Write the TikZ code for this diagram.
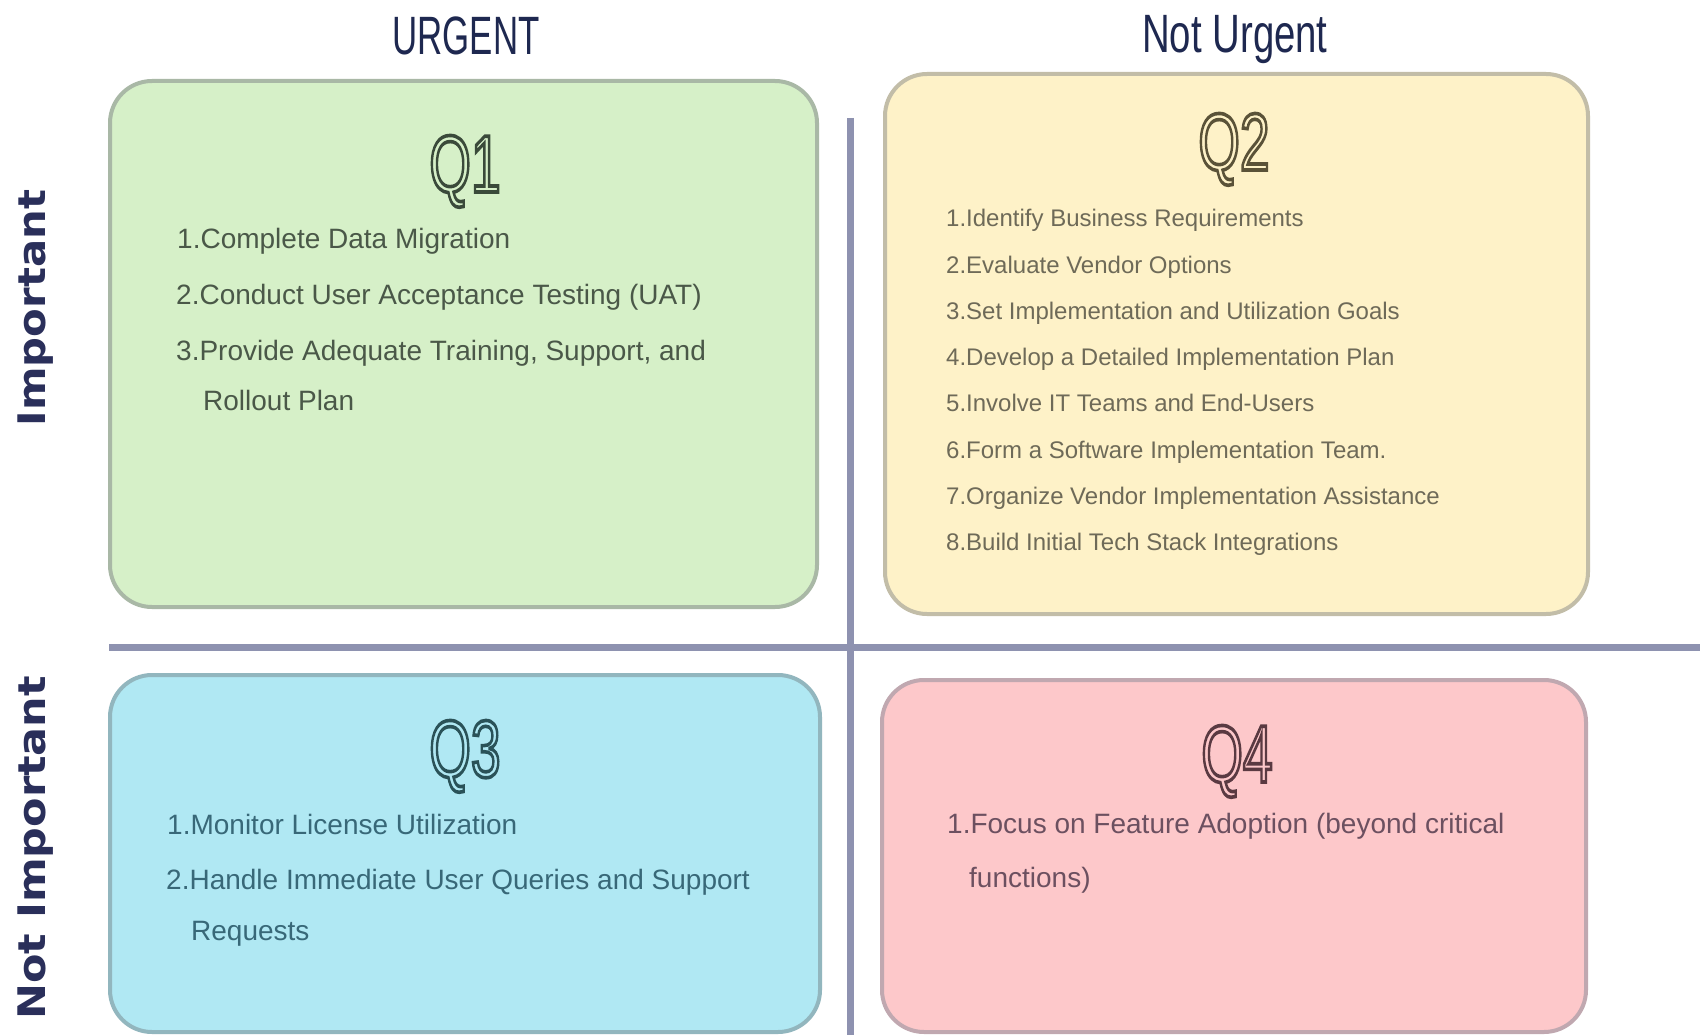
\documentclass[tikz,border=0pt]{standalone}
\usepackage{fontspec}
\setmainfont{Liberation Sans}
\newfontfamily\lblfont{DejaVu Sans}
\usepackage{graphicx}
\definecolor{q1fill}{HTML}{D6F0C8}
\definecolor{q1line}{HTML}{A9B8A6}
\definecolor{q1txt}{HTML}{4A5848}
\definecolor{q2fill}{HTML}{FEF2C8}
\definecolor{q2line}{HTML}{C2BDA8}
\definecolor{q2txt}{HTML}{6E6A58}
\definecolor{q3fill}{HTML}{B0E8F3}
\definecolor{q3line}{HTML}{92B6BE}
\definecolor{q3txt}{HTML}{386878}
\definecolor{q4fill}{HTML}{FDC8CA}
\definecolor{q4line}{HTML}{C0A8B0}
\definecolor{q4txt}{HTML}{6C5060}
\definecolor{axiscol}{HTML}{8E92B0}
\definecolor{hdrcol}{HTML}{1E2850}
\definecolor{lblcol}{HTML}{2A2F5A}
% outlined text: fill colour #3, stroke colour given as "r g b" in #2
\newcommand{\outlinedtext}[3]{{\color{#3}\special{pdf:literal direct 2 Tr 3.6 w #2 RG}#1\special{pdf:literal direct 0 Tr}}}
\begin{document}
\begin{tikzpicture}[x=1pt,y=-1pt,
  qbox/.style={rectangle, rounded corners=42pt, line width=4pt, inner sep=0pt},
  qtitle/.style={anchor=base, inner sep=0pt, font=\fontsize{81}{81}\selectfont},
  item/.style={anchor=base west, inner sep=0pt, font=\fontsize{28}{30}\selectfont},
  smallitem/.style={anchor=base west, inner sep=0pt, font=\fontsize{24}{26}\selectfont},
  header/.style={anchor=base, inner sep=0pt, text=hdrcol, font=\fontsize{54}{54}\selectfont},
  sidelbl/.style={anchor=base, inner sep=0pt, rotate=90, text=lblcol, font=\lblfont\bfseries\fontsize{38}{38}\selectfont},
  axis/.style={draw=axiscol, line width=7pt}
]
\useasboundingbox[fill=white] (0,0) rectangle (1708,1035);

% axes
\coordinate (hl) at (109,647);
\coordinate (hr) at (1700,647);
\coordinate (vt) at (850,118);
\coordinate (vb) at (850,1035);
\draw[axis] (hl) -- (hr);
\draw[axis] (vt) -- (vb);

% quadrant boxes
\node[qbox, fill=q1fill, draw=q1line, minimum width=707pt, minimum height=526pt] (q1) at (463.5,344) {};
\node[qbox, fill=q2fill, draw=q2line, minimum width=703pt, minimum height=540pt] (q2) at (1236.5,344) {};
\node[qbox, fill=q3fill, draw=q3line, minimum width=710pt, minimum height=357pt] (q3) at (465,853.5) {};
\node[qbox, fill=q4fill, draw=q4line, minimum width=704pt, minimum height=352pt] (q4) at (1234,856) {};

% headers
\node[header] (urg) at (466,55) {\scalebox{0.645}[1]{URGENT}};
\node[header] (nurg) at (1235,53) {\scalebox{0.71}[1]{Not Urgent}};

% side labels
\node[sidelbl] (imp) at (45,308) {\scalebox{1.1}[1]{Important}};
\node[sidelbl] (nimp) at (45,848) {\scalebox{1.13}[1]{Not Important}};

% titles (outlined)
\node[qtitle] (q1t) at (465,192) {\scalebox{0.66}[1]{\outlinedtext{Q1}{0.227 0.290 0.227}{q1fill}}};
\node[qtitle] (q2t) at (1234,170) {\scalebox{0.66}[1]{\outlinedtext{Q2}{0.353 0.322 0.220}{q2fill}}};
\node[qtitle] (q3t) at (465,777) {\scalebox{0.66}[1]{\outlinedtext{Q3}{0.165 0.322 0.345}{q3fill}}};
\node[qtitle] (q4t) at (1237,782) {\scalebox{0.66}[1]{\outlinedtext{Q4}{0.353 0.227 0.259}{q4fill}}};

% Q1 items
\node[item, text=q1txt] (a1) at (177,248) {1.Complete Data Migration};
\node[item, text=q1txt] (a2) at (176,304) {2.Conduct User Acceptance Testing (UAT)};
\node[item, text=q1txt] (a3) at (176,360) {3.Provide Adequate Training, Support, and};
\node[item, text=q1txt] (a4) at (203,410) {Rollout Plan};

% Q2 items
\node[smallitem, text=q2txt] (b1) at (946,227) {1.Identify Business Requirements};
\node[smallitem, text=q2txt] (b2) at (946,273) {2.Evaluate Vendor Options};
\node[smallitem, text=q2txt] (b3) at (946,319) {3.Set Implementation and Utilization Goals};
\node[smallitem, text=q2txt] (b4) at (946,365) {4.Develop a Detailed Implementation Plan};
\node[smallitem, text=q2txt] (b5) at (946,411) {5.Involve IT Teams and End-Users};
\node[smallitem, text=q2txt] (b6) at (946,458) {6.Form a Software Implementation Team.};
\node[smallitem, text=q2txt] (b7) at (946,504) {7.Organize Vendor Implementation Assistance};
\node[smallitem, text=q2txt] (b8) at (946,550) {8.Build Initial Tech Stack Integrations};

% Q3 items
\node[item, text=q3txt] (c1) at (167,834) {1.Monitor License Utilization};
\node[item, text=q3txt] (c2) at (166,889) {2.Handle Immediate User Queries and Support};
\node[item, text=q3txt] (c3) at (191,940) {Requests};

% Q4 items
\node[item, text=q4txt] (d1) at (947,833) {1.Focus on Feature Adoption (beyond critical};
\node[item, text=q4txt] (d2) at (969,887) {functions)};
\end{tikzpicture}
\end{document}
